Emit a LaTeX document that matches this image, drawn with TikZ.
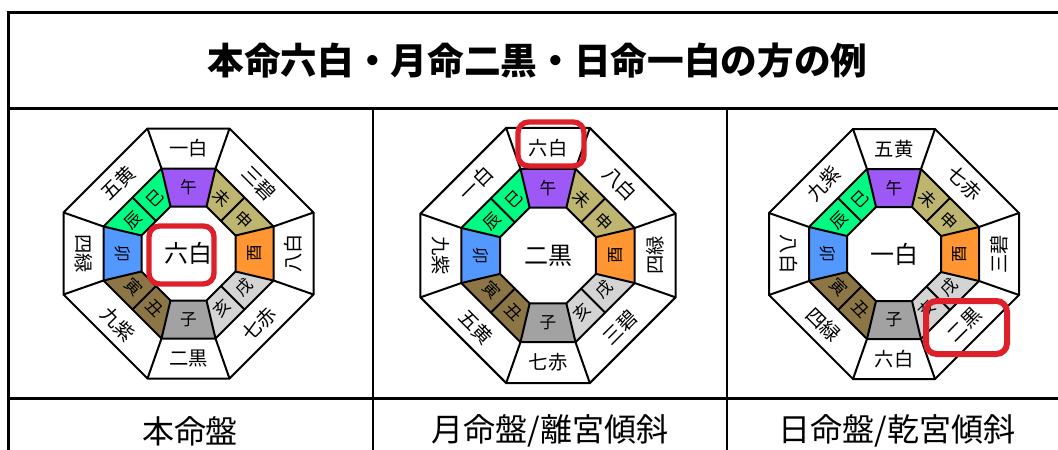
\documentclass[tikz,border=0pt]{standalone}
\usepackage{fontspec}
\newfontfamily\jp{Noto Sans CJK JP}
\usetikzlibrary{calc}
\definecolor{cN}{RGB}{158,88,246}
\definecolor{cNE}{RGB}{190,182,112}
\definecolor{cE}{RGB}{255,150,50}
\definecolor{cSE}{RGB}{212,212,212}
\definecolor{cS}{RGB}{162,162,162}
\definecolor{cSW}{RGB}{140,118,70}
\definecolor{cW}{RGB}{82,152,255}
\definecolor{cNW}{RGB}{0,250,130}
\definecolor{boxred}{RGB}{222,32,42}
\tikzset{
  bline/.style={line width=1.5pt, line join=miter},
  olab/.style={font=\jp\fontsize{14.5}{14.5}\selectfont, inner sep=0pt},
  ilab/.style={font=\jp\fontsize{12.5}{12.5}\selectfont, inner sep=0pt},
  clab/.style={font=\jp\fontsize{18}{18}\selectfont, inner sep=0pt},
  redbox/.style={draw=boxred, line width=4pt, rounded corners=8pt},
  tline/.style={line width=2.25pt},
  cline/.style={line width=1.5pt},
  caption/.style={font=\jp\fontsize{24}{24}\selectfont, inner sep=0pt},
  titletext/.style={font=\jp\bfseries\fontsize{27.5}{27.5}\selectfont, inner sep=0pt}
}
% #1 centre, #2 N, #3 NE, #4 E, #5 SE, #6 S, #7 SW, #8 W, #9 NW
\newcommand\kyuban[9]{%
  \coordinate (o1) at (-41,-125); \coordinate (o2) at (41,-125);
  \coordinate (o3) at (125,-41);  \coordinate (o4) at (125,41);
  \coordinate (o5) at (41,125);   \coordinate (o6) at (-41,125);
  \coordinate (o7) at (-125,41);  \coordinate (o8) at (-125,-41);
  \coordinate (r1) at (-27,-85); \coordinate (r2) at (27,-85);
  \coordinate (r3) at (85,-27);  \coordinate (r4) at (85,27);
  \coordinate (r5) at (27,85);   \coordinate (r6) at (-27,85);
  \coordinate (r7) at (-85,27);  \coordinate (r8) at (-85,-27);
  \coordinate (i1) at (-18,-47); \coordinate (i2) at (18,-47);
  \coordinate (i3) at (47,-18);  \coordinate (i4) at (47,18);
  \coordinate (i5) at (18,47);   \coordinate (i6) at (-18,47);
  \coordinate (i7) at (-47,18);  \coordinate (i8) at (-47,-18);
  \fill[cN]  (r1)--(r2)--(i2)--(i1)--cycle;
  \fill[cNE] (r2)--(r3)--(i3)--(i2)--cycle;
  \fill[cE]  (r3)--(r4)--(i4)--(i3)--cycle;
  \fill[cSE] (r4)--(r5)--(i5)--(i4)--cycle;
  \fill[cS]  (r5)--(r6)--(i6)--(i5)--cycle;
  \fill[cSW] (r6)--(r7)--(i7)--(i6)--cycle;
  \fill[cW]  (r7)--(r8)--(i8)--(i7)--cycle;
  \fill[cNW] (r8)--(r1)--(i1)--(i8)--cycle;
  \draw[bline] (o1)--(o2)--(o3)--(o4)--(o5)--(o6)--(o7)--(o8)--cycle;
  \draw[bline] (r1)--(r2)--(r3)--(r4)--(r5)--(r6)--(r7)--(r8)--cycle;
  \draw[bline] (i1)--(i2)--(i3)--(i4)--(i5)--(i6)--(i7)--(i8)--cycle;
  \foreach \k in {1,...,8}{\draw[bline] (o\k)--(r\k)--(i\k);}
  \draw[bline] ($(r2)!0.5!(r3)$) -- ($(i2)!0.5!(i3)$);
  \draw[bline] ($(r4)!0.5!(r5)$) -- ($(i4)!0.5!(i5)$);
  \draw[bline] ($(r6)!0.5!(r7)$) -- ($(i6)!0.5!(i7)$);
  \draw[bline] ($(r8)!0.5!(r1)$) -- ($(i8)!0.5!(i1)$);
  \node[clab] (\bp c) at (0,0) {#1};
  \node[olab] (\bp n) at (0,-105) {#2};
  \node[olab, rotate=-45] (\bp ne) at (70.5,-70.5) {#3};
  \node[olab, rotate=90] (\bp e) at (105,0) {#4};
  \node[olab, rotate=45] (\bp se) at (70.5,70.5) {#5};
  \node[olab] (\bp s) at (0,105) {#6};
  \node[olab, rotate=-45] (\bp sw) at (-70.5,70.5) {#7};
  \node[olab, rotate=-90] (\bp w) at (-105,0) {#8};
  \node[olab, rotate=45] (\bp nw) at (-70.5,-70.5) {#9};
  \node[ilab] (\bp-uma) at (0,-66) {午};
  \node[ilab, rotate=-45] (\bp-hitsuji) at (33.4,-55.1) {未};
  \node[ilab, rotate=-45] (\bp-saru) at (55.1,-33.4) {申};
  \node[ilab, rotate=90] (\bp-tori) at (66,0) {酉};
  \node[ilab, rotate=45] (\bp-inu) at (55.1,33.4) {戌};
  \node[ilab, rotate=45] (\bp-i) at (33.4,55.1) {亥};
  \node[ilab] (\bp-ne) at (0,66) {子};
  \node[ilab, rotate=-45] (\bp-ushi) at (-33.4,55.1) {丑};
  \node[ilab, rotate=-45] (\bp-tora) at (-55.1,33.4) {寅};
  \node[ilab, rotate=-90] (\bp-u) at (-66,0) {卯};
  \node[ilab, rotate=45] (\bp-tatsu) at (-55.1,-33.4) {辰};
  \node[ilab, rotate=45] (\bp-mi) at (-33.4,-55.1) {巳};
}
\begin{document}
\begin{tikzpicture}[x=0.75pt, y=-0.75pt]
  \clip (0,0) rectangle (1058,450);
  \fill[white] (0,0) rectangle (1058,450);
  % table
  \draw[tline] (8,470) -- (8,12) -- (1080,12);
  \draw[tline] (8,108) -- (1080,108);
  \draw[tline] (8,398) -- (1080,398);
  \draw[cline] (373,108) -- (373,470);
  \draw[cline] (727,108) -- (727,470);
  \node[titletext] (title) at (537.5,61) {本命六白・月命二黒・日命一白の方の例};
  \node[caption] (cap1) at (190,431) {本命盤};
  \node[caption] (cap2) at (550,431) {月命盤/離宮傾斜};
  \node[caption] (cap3) at (897,431) {日命盤/乾宮傾斜};
  % boards
  \def\bp{b1}
  \begin{scope}[shift={(188.5,253.5)}]
    \kyuban{六白}{一白}{三碧}{八白}{七赤}{二黒}{九紫}{四緑}{五黄}
  \end{scope}
  \def\bp{b2}
  \begin{scope}[shift={(548,255.5)}, scale=1.02]
    \kyuban{二黒}{六白}{八白}{四緑}{三碧}{七赤}{五黄}{九紫}{一白}
  \end{scope}
  \def\bp{b3}
  \begin{scope}[shift={(894,254)}]
    \kyuban{一白}{五黄}{七赤}{三碧}{二黒}{六白}{四緑}{八白}{九紫}
  \end{scope}
  % red highlight boxes
  \node[redbox, minimum width=65*0.75pt, minimum height=58*0.75pt] (hl1) at (181.5,255) {};
  \node[redbox, minimum width=66*0.75pt, minimum height=44*0.75pt] (hl2) at (551,144) {};
  \node[redbox, minimum width=81*0.75pt, minimum height=53*0.75pt, line width=4.5pt] (hl3) at (966.5,327.5) {};
\end{tikzpicture}
\end{document}
